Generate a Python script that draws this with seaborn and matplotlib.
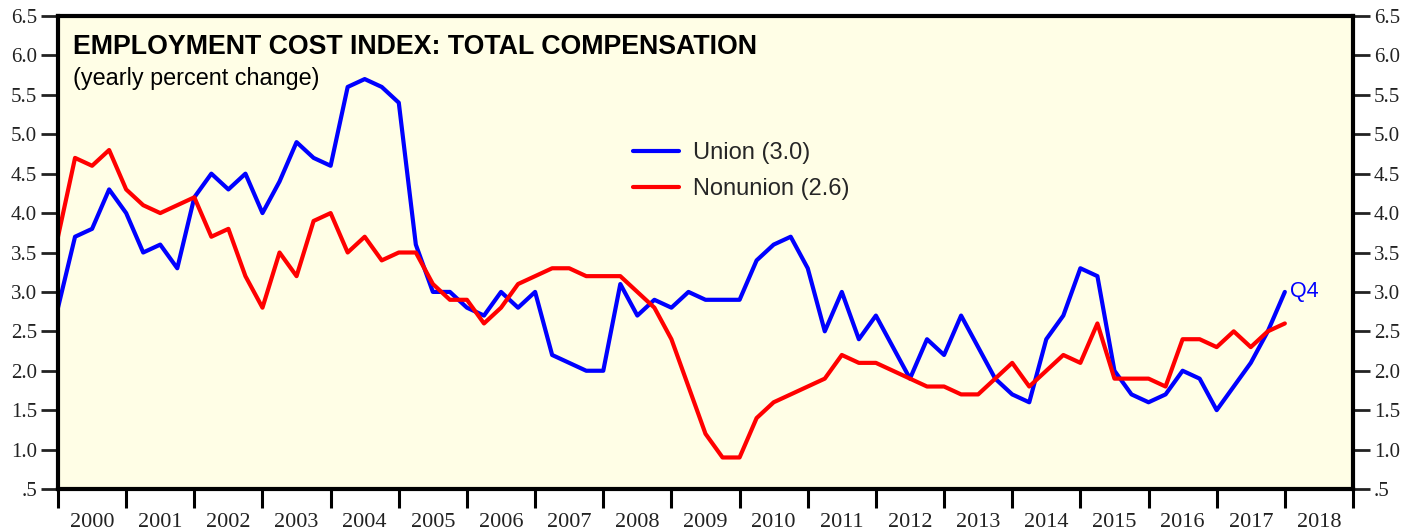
import numpy as np
import pandas as pd
import matplotlib
matplotlib.use("Agg")
import matplotlib.pyplot as plt
import seaborn as sns

# Quarterly data, 1999Q4 .. 2017Q4 (plotted at quarter end)
quarters = np.arange(73)
union = [2.8, 3.7, 3.8, 4.3, 4.0, 3.5, 3.6, 3.3, 4.2, 4.5, 4.3, 4.5, 4.0, 4.4, 4.9, 4.7,
         4.6, 5.6, 5.7, 5.6, 5.4, 3.6, 3.0, 3.0, 2.8, 2.7, 3.0, 2.8, 3.0, 2.2, 2.1, 2.0,
         2.0, 3.1, 2.7, 2.9, 2.8, 3.0, 2.9, 2.9, 2.9, 3.4, 3.6, 3.7, 3.3, 2.5, 3.0, 2.4,
         2.7, 2.3, 1.9, 2.4, 2.2, 2.7, 2.3, 1.9, 1.7, 1.6, 2.4, 2.7, 3.3, 3.2, 2.0, 1.7,
         1.6, 1.7, 2.0, 1.9, 1.5, 1.8, 2.1, 2.5, 3.0]
nonunion = [3.7, 4.7, 4.6, 4.8, 4.3, 4.1, 4.0, 4.1, 4.2, 3.7, 3.8, 3.2, 2.8, 3.5, 3.2, 3.9,
            4.0, 3.5, 3.7, 3.4, 3.5, 3.5, 3.1, 2.9, 2.9, 2.6, 2.8, 3.1, 3.2, 3.3, 3.3, 3.2,
            3.2, 3.2, 3.0, 2.8, 2.4, 1.8, 1.2, 0.9, 0.9, 1.4, 1.6, 1.7, 1.8, 1.9, 2.2, 2.1,
            2.1, 2.0, 1.9, 1.8, 1.8, 1.7, 1.7, 1.9, 2.1, 1.8, 2.0, 2.2, 2.1, 2.6, 1.9, 1.9,
            1.9, 1.8, 2.4, 2.4, 2.3, 2.5, 2.3, 2.5, 2.6]
series_names = ["Union (3.0)", "Nonunion (2.6)"]
years = list(range(2000, 2019))
ytick_vals = [0.5, 1.0, 1.5, 2.0, 2.5, 3.0, 3.5, 4.0, 4.5, 5.0, 5.5, 6.0, 6.5]
ytick_labels = [".5", "1.0", "1.5", "2.0", "2.5", "3.0", "3.5", "4.0", "4.5", "5.0", "5.5", "6.0", "6.5"]

xpos = 2000 + quarters * 0.25
df = pd.concat([
    pd.DataFrame({"x": xpos, "value": union, "series": series_names[0]}),
    pd.DataFrame({"x": xpos, "value": nonunion, "series": series_names[1]}),
])

sns.set_theme(style="white")
plt.rcParams["font.family"] = ["Liberation Sans", "DejaVu Sans"]

fig = plt.figure(figsize=(14.19, 5.31), dpi=100)
ax = fig.add_axes([58 / 1419, 1 - 489 / 531, (1353 - 58) / 1419, (489 - 16) / 531])
ax.set_facecolor("#FFFEE6")

sns.lineplot(data=df, x="x", y="value", hue="series", palette=["#0000FF", "#FF0000"],
             linewidth=3.0, ax=ax, legend=True)

ax.set_xlim(2000, 2019)
ax.set_ylim(0.5, 6.5)
ax.set_xlabel("")
ax.set_ylabel("")

# y ticks on both sides
ax.set_yticks(ytick_vals)
ax.set_yticklabels(ytick_labels, family="Liberation Serif", fontsize=15)
ax.tick_params(axis="y", which="major", left=True, right=True, labelleft=True, labelright=True,
               direction="out", length=12, width=2, pad=3, colors="#222222")

# x: ticks at year boundaries, labels centered
ax.set_xticks(list(range(2000, 2020)))
ax.set_xticklabels([])
ax.set_xticks([y + 0.5 for y in years], minor=True)
ax.set_xticklabels([str(y) for y in years], minor=True, family="Liberation Serif", fontsize=16)
ax.tick_params(axis="x", which="major", bottom=True, direction="out", length=14, width=2.2, color="black")
ax.tick_params(axis="x", which="minor", bottom=True, length=0, pad=17, labelcolor="#222222")

for s in ax.spines.values():
    s.set_linewidth(3)
    s.set_color("black")

ax.text(0.0115, 0.963, "EMPLOYMENT COST INDEX: TOTAL COMPENSATION", transform=ax.transAxes,
        fontsize=19.3, fontweight="bold", va="top", ha="left", color="black")
ax.text(0.0115, 0.893, "(yearly percent change)", transform=ax.transAxes,
        fontsize=16.8, va="top", ha="left", color="black")

ax.text(2018.08, 3.0, "Q4", color="#0000FF", fontsize=15.5, va="center", ha="left")

leg = ax.legend(loc="upper left", bbox_to_anchor=(0.444, 0.734), frameon=False,
                fontsize=17, handlelength=1.95, handletextpad=0.6, labelspacing=0.6,
                borderpad=0, borderaxespad=0)
for line in leg.get_lines():
    line.set_linewidth(3.0)

fig.savefig("out.png", dpi=100)
